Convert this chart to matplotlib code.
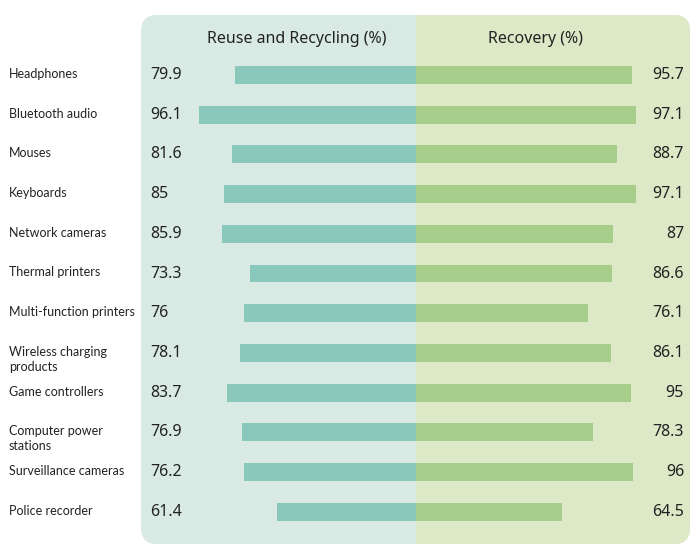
import numpy as np
import matplotlib
matplotlib.use('agg')
import matplotlib.pyplot as plt
import matplotlib.transforms as mtransforms
from matplotlib.patches import FancyBboxPatch, Rectangle

categories = ['Headphones', 'Bluetooth audio', 'Mouses', 'Keyboards', 'Network cameras',
              'Thermal printers', 'Multi-function printers', 'Wireless charging\nproducts',
              'Game controllers', 'Computer power\nstations', 'Surveillance cameras',
              'Police recorder']
reuse_recycling = [79.9, 96.1, 81.6, 85, 85.9, 73.3, 76, 78.1, 83.7, 76.9, 76.2, 61.4]
recovery = [95.7, 97.1, 88.7, 97.1, 87, 86.6, 76.1, 86.1, 95, 78.3, 96, 64.5]
reuse_labels = ['79.9', '96.1', '81.6', '85', '85.9', '73.3', '76', '78.1', '83.7', '76.9', '76.2', '61.4']
recovery_labels = ['95.7', '97.1', '88.7', '97.1', '87', '86.6', '76.1', '86.1', '95', '78.3', '96', '64.5']

plt.rcParams['font.family'] = ['Noto Sans', 'DejaVu Sans']

W, H = 699, 554
fig = plt.figure(figsize=(W / 100, H / 100), dpi=100)
# axes spans the coloured panel
x0, x1, y0, y1 = 141, 690, 15, 544
ax = fig.add_axes([x0 / W, 1 - y1 / H, (x1 - x0) / W, (y1 - y0) / H])
ax.set_xlim(-121.7, 121.2)
ax.set_ylim(11.81, -1.51)
ax.axis('off')

teal_bg, green_bg = '#d8eae3', '#dce8c6'
teal_bar, green_bar = '#89c8bb', '#a6ce8a'

# panel backgrounds (rounded outer corners)
aw, ah = x1 - x0, y1 - y0
r = 16 / aw
mid = 121.7 / (121.7 + 121.2)
ax.add_patch(FancyBboxPatch((0, 0), 1, 1, boxstyle=f'round,pad=0,rounding_size={r}',
                            mutation_aspect=aw / ah, transform=ax.transAxes,
                            fc=teal_bg, ec='none', zorder=0, clip_on=False))
ax.add_patch(FancyBboxPatch((mid, 0), 1 - mid, 1, boxstyle=f'round,pad=0,rounding_size={r}',
                            mutation_aspect=aw / ah, transform=ax.transAxes,
                            fc=green_bg, ec='none', zorder=0.5, clip_on=False))
ax.add_patch(Rectangle((mid, 0), 0.1, 1, transform=ax.transAxes,
                       fc=green_bg, ec='none', zorder=0.6, clip_on=False))

y = np.arange(len(categories))
ax.barh(y, -np.array(reuse_recycling), height=0.45, color=teal_bar, zorder=2)
ax.barh(y, recovery, height=0.45, color=green_bar, zorder=2)

for i in y:
    ax.text(-117.7, i, reuse_labels[i], ha='left', va='center', fontsize=11.5, color='#222222')
    ax.text(118.6, i, recovery_labels[i], ha='right', va='center', fontsize=11.5, color='#222222')

ax.text(-53, -0.9, 'Reuse and Recycling (%)', ha='center', va='center', fontsize=11.5, color='#222222')
ax.text(53, -0.9, 'Recovery (%)', ha='center', va='center', fontsize=11.5, color='#222222')

trans = mtransforms.blended_transform_factory(fig.transFigure, ax.transData)
for i, c in enumerate(categories):
    ax.text(9 / W, i - 0.18, c, ha='left', va='top', fontsize=9, color='#222222',
            transform=trans, linespacing=1.3, family=['Lato', 'DejaVu Sans'])

fig.savefig('out.png', dpi=100)
